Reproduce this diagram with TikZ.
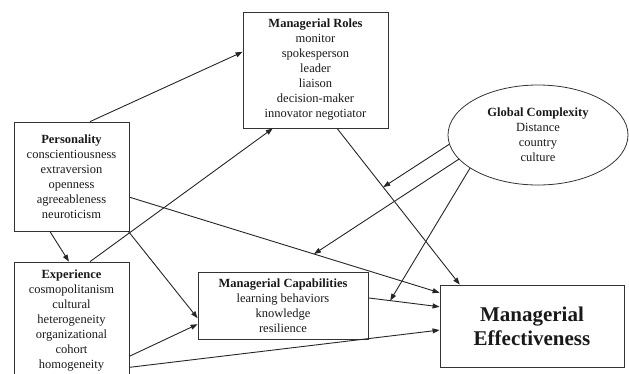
\documentclass[tikz,border=0pt]{standalone}
\usepackage{fontspec}
\setmainfont{Liberation Serif}
\usetikzlibrary{shapes.geometric,arrows.meta,calc}
\begin{document}
\begin{tikzpicture}[x=1pt,y=-1pt,
  box/.style={draw=black!80, line width=0.8pt, align=center, inner sep=0pt,
    font=\fontsize{12.5}{15}\selectfont, text=black!90},
  conn/.style={draw=black!85, line width=0.9pt, -{Triangle[length=7pt,width=5pt]}},
  plainline/.style={draw=black!85, line width=0.9pt}]
\useasboundingbox (0,0) rectangle (629,373);
\clip (0,0) rectangle (629,373);

\node[box, minimum width=115pt, minimum height=109pt] (pers) at (71.5,176.5)
  {\textbf{Personality}\\conscientiousness\\extraversion\\openness\\agreeableness\\neuroticism};
\node[box, minimum width=115pt, minimum height=118pt] (exp) at (71.5,321)
  {\textbf{Experience}\\cosmopolitanism\\cultural\\heterogeneity\\organizational\\cohort\\homogeneity};
\node[box, minimum width=145pt, minimum height=116pt] (roles) at (315.5,70)
  {\textbf{Managerial Roles}\\monitor\\spokesperson\\leader\\liaison\\decision-maker\\innovator negotiator};
\node[box, minimum width=170pt, minimum height=67pt] (cap) at (283,305.5)
  {\textbf{Managerial Capabilities}\\learning behaviors\\knowledge\\resilience};
\node[box, minimum width=184pt, minimum height=82pt, font=\bfseries\fontsize{21}{24}\selectfont] (me) at (532,326)
  {Managerial\\Effectiveness};
\node[box, ellipse, minimum width=180pt, minimum height=100pt] (gc) at (538,135)
  {\textbf{Global Complexity}\\Distance\\country\\culture};

% endpoints
\coordinate (p1) at ($(pers.north west)!0.66!(pers.north east)$);
\coordinate (r1) at ($(roles.north west)!0.345!(roles.south west)$);
\coordinate (p2) at ($(pers.south west)!0.313!(pers.south east)$);
\coordinate (e1) at ($(exp.north west)!0.478!(exp.north east)$);
\coordinate (e2) at ($(exp.north west)!0.66!(exp.north east)$);
\coordinate (r2) at ($(roles.south west)!0.207!(roles.south east)$);
\coordinate (p3) at ($(pers.north east)!0.688!(pers.south east)$);
\coordinate (m1) at ($(me.north west)!0.098!(me.south west)$);
\coordinate (p4) at ($(pers.south east)+(-1,0)$);
\coordinate (c1) at ($(cap.north west)!0.687!(cap.south west)$);
\coordinate (e3) at ($(exp.north east)!0.797!(exp.south east)$);
\coordinate (c2) at ($(cap.north west)!0.776!(cap.south west)$);
\coordinate (e4) at ($(exp.north east)!0.89!(exp.south east)$);
\coordinate (m2) at ($(me.north west)!0.549!(me.south west)$);
\coordinate (c3) at ($(cap.north east)!0.388!(cap.south east)$);
\coordinate (m3) at ($(me.north west)!0.268!(me.south west)$);
\coordinate (r3) at ($(roles.south west)!0.648!(roles.south east)$);
\coordinate (m4) at ($(me.north west)!0.109!(me.north east)$);

\draw[conn] (p1) -- (r1);
\draw[conn] (p2) -- (e1);
\draw[conn] (e2) -- (r2);
\draw[conn] (p3) -- (m1);
\draw[conn] (p4) -- (c1);
\draw[conn] (e3) -- (c2);
\draw[conn] (e4) -- (m2);
\draw[conn] (c3) -- (m3);
\draw[conn] (r3) -- (m4);

% moderation by global complexity
\coordinate (xa) at ($(r3)!0.376!(m4)$);
\coordinate (xb) at ($(p3)!0.595!(m1)$);
\coordinate (xc) at ($(c3)!0.306!(m3)$);
\draw[conn] (gc.186) -- (xa);
\draw[conn] (gc.197) -- (xb);
\draw[conn] (gc.206) -- (xc);
\end{tikzpicture}
\end{document}
